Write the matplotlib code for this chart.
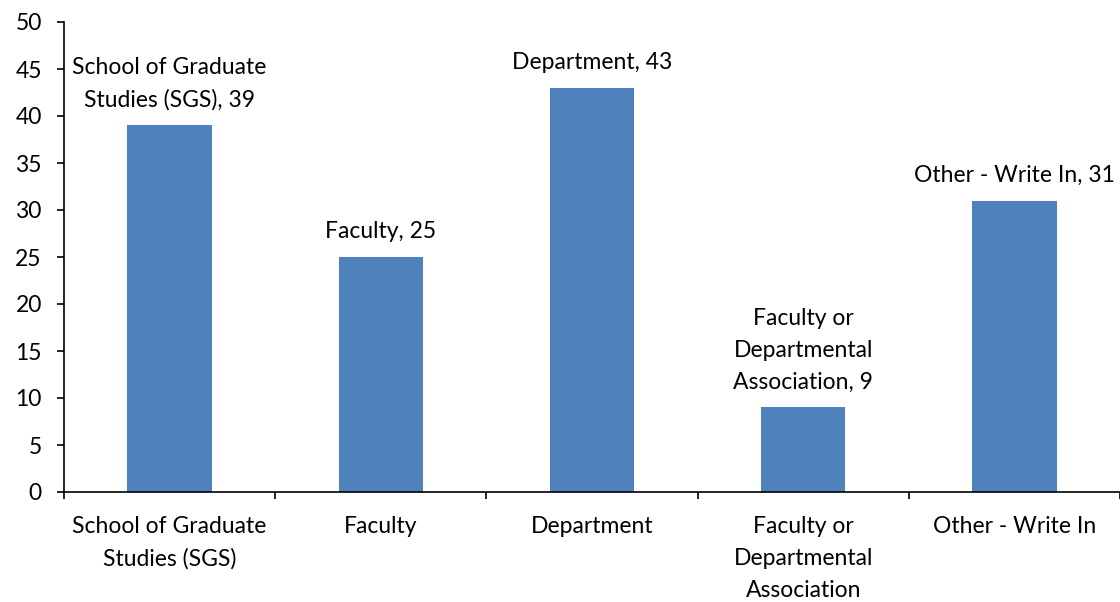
import numpy
import matplotlib
matplotlib.use("Agg")
from matplotlib import pyplot

categories = ["School of Graduate\nStudies (SGS)", "Faculty", "Department",
              "Faculty or\nDepartmental\nAssociation", "Other - Write In"]
bar_labels = ["School of Graduate\nStudies (SGS)", "Faculty", "Department",
              "Faculty or\nDepartmental\nAssociation", "Other - Write In"]
counts = [39, 25, 43, 9, 31]
yticks = [0, 5, 10, 15, 20, 25, 30, 35, 40, 45, 50]


def main():
    pyplot.rcParams['font.family'] = ['Lato', 'DejaVu Sans']
    fontsize = 16.5

    fig = pyplot.figure(figsize=(11.2, 6.02), dpi=100)
    ax = fig.add_axes([64 / 1120, 1 - 492 / 602, 1 - 64 / 1120, (492 - 22) / 602])

    x = numpy.arange(len(counts))
    ax.bar(x, counts, width=0.4, color='#4F81BD', zorder=2)

    for xi, n, lab in zip(x, counts, bar_labels):
        ax.annotate(f"{lab}, {n}", (xi, n), xytext=(0, 10.5), textcoords='offset points',
                    ha='center', va='bottom', fontsize=fontsize, linespacing=1.65,
                    annotation_clip=False)

    ax.set_xlim(-0.5, len(counts) - 0.5)
    ax.set_ylim(0, 50)
    ax.set_yticks(yticks)
    ax.tick_params(axis='y', labelsize=fontsize, direction='out', length=5, width=1.2, pad=11)

    # category ticks at boundaries, labels centred
    ax.set_xticks(numpy.arange(-0.5, len(counts), 1.0))
    ax.set_xticklabels([])
    ax.tick_params(axis='x', direction='out', length=5, width=1.2)
    ax.set_xticks(x, minor=True)
    ax.set_xticklabels(categories, minor=True, fontsize=fontsize, linespacing=1.65)
    ax.tick_params(axis='x', which='minor', length=0, pad=17)

    for side in ['top', 'right']:
        ax.spines[side].set_visible(False)
    for side in ['left', 'bottom']:
        ax.spines[side].set_linewidth(1.2)

    fig.savefig("out.png", dpi=100)
    pyplot.close(fig)


if __name__ == "__main__":
    main()
